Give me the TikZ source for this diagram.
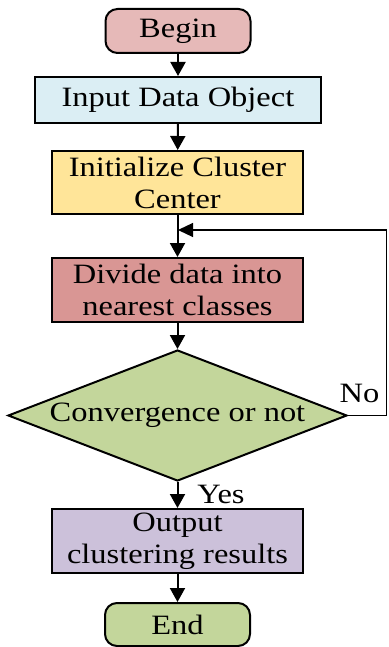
\documentclass[tikz,border=0pt]{standalone}
\usepackage{fontspec}
\setmainfont{Liberation Serif}[FakeStretch=1.16]
\usetikzlibrary{shapes.geometric,arrows.meta}

\definecolor{beginfill}{HTML}{E6B9B8}
\definecolor{inputfill}{HTML}{DBEEF4}
\definecolor{initfill}{HTML}{FFE599}
\definecolor{dividefill}{HTML}{D99694}
\definecolor{decfill}{HTML}{C3D69B}
\definecolor{outfill}{HTML}{CCC1DA}

\tikzset{
  basebox/.style={draw=black, line width=2pt, inner sep=0pt, align=center,
    font=\fontsize{28}{32}\selectfont},
  procbox/.style={basebox, rectangle, minimum width=251pt, minimum height=64pt},
  termbox/.style={basebox, rectangle, rounded corners=12pt, minimum width=145pt, minimum height=44pt},
  decbox/.style={basebox, diamond, aspect=2.6, minimum width=339pt, minimum height=131pt},
  flow/.style={line width=2pt, -{Triangle[length=14pt,width=15pt]}},
  loopline/.style={line width=1.2pt, -{Triangle[length=15pt,width=14pt]}},
  tag/.style={inner sep=0pt, font=\fontsize{28}{32}\selectfont}
}

\begin{document}
\begin{tikzpicture}[x=1pt, y=-1pt]
  \useasboundingbox (0,0) rectangle (388,647);

  \node[termbox, fill=beginfill] (begin) at (178,31) {Begin};
  \node[procbox, fill=inputfill, minimum width=286pt, minimum height=46pt] (input) at (178,100) {Input Data Object};
  \node[procbox, fill=initfill, minimum height=63pt] (init) at (177.5,182.5) {Initialize Cluster\\Center};
  \node[procbox, fill=dividefill] (divide) at (177.5,290) {Divide data into\\nearest classes};
  \node[decbox, fill=decfill] (conv) at (177.5,415.5) {Convergence or not};
  \node[procbox, fill=outfill] (output) at (177.5,541) {Output\\clustering results};
  \node[termbox, fill=decfill, minimum height=43pt] (end) at (177.5,624.5) {End};

  \coordinate (loopin) at (178,230);
  \coordinate (loopright) at (386.5,415.5);
  \coordinate (looptop) at (386.5,230);

  \draw[flow] (begin) -- (input);
  \draw[flow] (input) -- (init);
  \draw[flow] (init) -- (divide);
  \draw[flow] (divide) -- (conv);
  \draw[flow] (conv) -- (output);
  \draw[flow] (output) -- (end);

  \draw[loopline] (conv.east) -- (loopright) -- (looptop) -- (loopin);

  \node[tag, anchor=base] (yes) at (221,503) {Yes};
  \node[tag, anchor=base] (no) at (359.5,402) {No};
\end{tikzpicture}
\end{document}
